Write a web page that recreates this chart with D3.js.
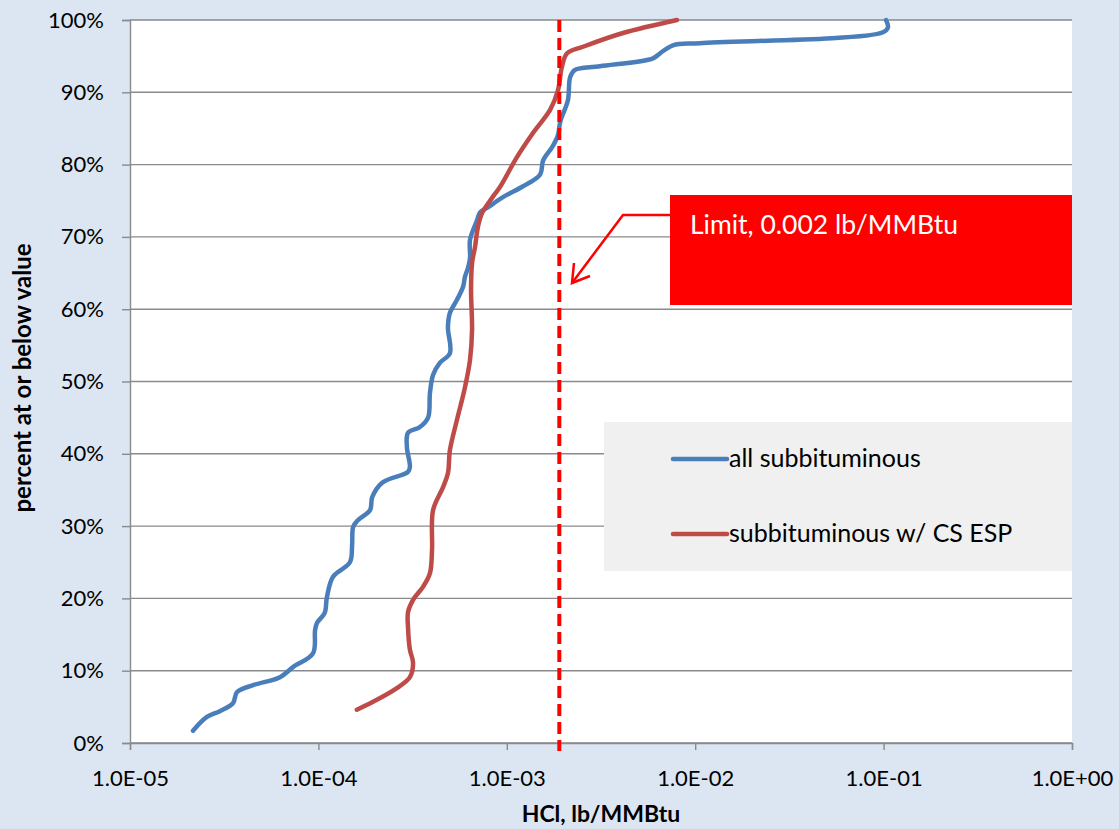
<!DOCTYPE html>
<html>
<head>
<meta charset="utf-8">
<script src="https://cdn.jsdelivr.net/npm/d3@7"></script>
<style>
  html, body { margin: 0; padding: 0; background: #DCE6F2; }
  svg { display: block; font-family: Lato, "Open Sans", sans-serif; }
</style>
</head>
<body>
<script>
// Data
var xTicks = [1e-5, 1e-4, 1e-3, 1e-2, 1e-1, 1];
var xTickLabels = ["1.0E-05", "1.0E-04", "1.0E-03", "1.0E-02", "1.0E-01", "1.0E+00"];
var yTicks = [0, 10, 20, 30, 40, 50, 60, 70, 80, 90, 100];
var yTickLabels = ["0%", "10%", "20%", "30%", "40%", "50%", "60%", "70%", "80%", "90%", "100%"];

var seriesNames = ["all subbituminous", "subbituminous w/ CS ESP"];

// all subbituminous: HCl (lb/MMBtu) and percent at or below
var allSubHcl = [2.16e-5, 2.56e-5, 3.00e-5, 3.52e-5, 3.70e-5, 4.50e-5, 6.25e-5, 7.33e-5, 9.36e-5, 9.6e-5,
                 9.83e-5, 1.08e-4, 1.11e-4, 1.196e-4, 1.47e-4, 1.51e-4, 1.53e-4, 1.62e-4, 1.88e-4, 1.93e-4,
                 2.18e-4, 2.99e-4, 3.06e-4, 2.95e-4, 2.99e-4, 3.46e-4, 3.82e-4, 3.91e-4, 4.06e-4, 4.42e-4,
                 4.99e-4, 4.87e-4, 4.99e-4, 5.44e-4, 5.86e-4, 6.00e-4, 6.22e-4, 6.38e-4, 6.38e-4, 6.95e-4,
                 7.21e-4, 7.85e-4, 9.54e-4, 1.22e-3, 1.50e-3, 1.56e-3, 1.74e-3, 1.87e-3, 1.92e-3, 2.11e-3,
                 2.17e-3, 2.30e-3, 3.12e-3, 5.97e-3, 6.51e-3, 7.62e-3, 1.06e-2, 9.93e-2, 0.1055, 0.103];
var allSubPct = [1.7, 3.6, 4.4, 5.5, 7.05, 8.0, 9.1, 10.5, 12.4, 15.6,
                 16.6, 18.0, 20.2, 23.0, 25.0, 27.4, 29.9, 30.8, 32.2, 34.0,
                 36.0, 37.5, 38.2, 40.9, 42.9, 43.7, 45.0, 48.4, 50.9, 52.6,
                 53.9, 57.5, 59.5, 61.3, 63.1, 64.5, 65.7, 67.1, 69.6, 72.3,
                 73.4, 74.0, 75.5, 77.0, 78.6, 80.6, 82.4, 84.1, 85.9, 88.9,
                 92.1, 93.1, 93.6, 94.7, 95.4, 96.5, 96.8, 98.3, 99.0, 100];

// subbituminous w/ CS ESP
var espHcl = [1.60e-4, 1.95e-4, 2.61e-4, 3.06e-4, 3.18e-4, 3.06e-4, 2.99e-4, 2.99e-4, 3.18e-4, 3.59e-4,
              3.91e-4, 4.01e-4, 4.06e-4, 4.59e-4, 4.87e-4, 4.99e-4, 5.44e-4, 6.00e-4, 6.38e-4, 6.54e-4,
              6.46e-4, 6.54e-4, 6.78e-4, 7.03e-4, 7.39e-4, 8.35e-4, 9.20e-4, 1.13e-3, 1.38e-3, 1.70e-3,
              1.87e-3, 1.96e-3, 2.09e-3, 2.54e-3, 4.14e-3, 8.01e-3];
var espPct = [4.6, 5.7, 7.6, 9.1, 11.1, 12.9, 16.0, 18.1, 19.8, 21.6,
              23.5, 26.7, 32.2, 35.4, 37.3, 40.5, 44.7, 49.2, 53.0, 57.1,
              62.7, 66.4, 68.6, 71.4, 73.3, 75.4, 76.9, 81.0, 84.4, 87.6,
              90.3, 93.5, 95.4, 96.3, 98.2, 100];

var limitValue = 0.0019;
var limitLabel = "Limit, 0.002 lb/MMBtu";

var width = 1119, height = 829;
var margin = {top: 20, right: 47, bottom: 86, left: 130};
var plotW = width - margin.left - margin.right;
var plotH = height - margin.top - margin.bottom;

var svg = d3.select("body").append("svg")
    .attr("width", width)
    .attr("height", height);

svg.append("rect").attr("width", width).attr("height", height).attr("fill", "#DCE6F2");

var g = svg.append("g").attr("transform", "translate(" + margin.left + "," + margin.top + ")");

var x = d3.scaleLog().domain([1e-5, 1]).range([0, plotW]);
var y = d3.scaleLinear().domain([0, 100]).range([plotH, 0]);

g.append("rect").attr("width", plotW).attr("height", plotH).attr("fill", "#fff");

// gridlines
g.selectAll(".grid")
    .data(yTicks)
    .enter()
    .append("line")
    .attr("x1", 0).attr("x2", plotW)
    .attr("y1", function(d){ return y(d); })
    .attr("y2", function(d){ return y(d); })
    .attr("stroke", "#8a8a8a")
    .attr("stroke-width", 1.4);

// axes
var yAxis = d3.axisLeft(y)
    .tickValues(yTicks)
    .tickFormat(function(d, i){ return yTickLabels[i]; })
    .tickSize(8)
    .tickPadding(18);

var xAxis = d3.axisBottom(x)
    .tickValues(xTicks)
    .tickFormat(function(d, i){ return xTickLabels[i]; })
    .tickSize(7)
    .tickPadding(20);

var yg = g.append("g").call(yAxis);
var xg = g.append("g").attr("transform", "translate(0," + plotH + ")").call(xAxis);

[yg, xg].forEach(function(a){
    a.select(".domain").attr("stroke", "#8a8a8a").attr("stroke-width", 1.4);
    a.selectAll(".tick line").attr("stroke", "#8a8a8a").attr("stroke-width", 1.4);
    a.selectAll(".tick text")
        .attr("fill", "#000")
        .style("font-family", "Lato, 'Open Sans', sans-serif")
        .style("font-size", "22px");
});

// legend box (covers gridlines)
var legend = g.append("g").attr("transform", "translate(474,402)");
legend.append("rect").attr("width", 468).attr("height", 149).attr("fill", "#F0F0F0");

// series
var line = d3.line()
    .x(function(d){ return x(d[0]); })
    .y(function(d){ return y(d[1]); })
    .curve(d3.curveCatmullRom.alpha(0.5));

var series = [
    {name: seriesNames[0], color: "#4A7EBB", pts: d3.zip(allSubHcl, allSubPct)},
    {name: seriesNames[1], color: "#BE4B48", pts: d3.zip(espHcl, espPct)}
];

g.selectAll(".series")
    .data(series)
    .enter()
    .append("path")
    .attr("d", function(d){ return line(d.pts); })
    .attr("fill", "none")
    .attr("stroke", function(d){ return d.color; })
    .attr("stroke-width", 4.5)
    .attr("stroke-linecap", "round")
    .attr("stroke-linejoin", "round");

legend.selectAll(".lg")
    .data(series)
    .enter()
    .append("g")
    .attr("transform", function(d, i){ return "translate(0," + (37 + i * 75) + ")"; })
    .each(function(d){
        var s = d3.select(this);
        s.append("line").attr("x1", 69).attr("x2", 123)
            .attr("stroke", d.color).attr("stroke-width", 4.5).attr("stroke-linecap", "round");
        s.append("text").attr("x", 125).attr("y", 8)
            .style("font-size", "25px").attr("fill", "#000").text(d.name);
    });

// limit line
g.append("line")
    .attr("x1", x(limitValue)).attr("x2", x(limitValue))
    .attr("y1", 0).attr("y2", plotH + 8)
    .attr("stroke", "#FF0000")
    .attr("stroke-width", 4)
    .attr("stroke-dasharray", "12,6");

// annotation
svg.append("rect").attr("x", 670).attr("y", 195).attr("width", 402).attr("height", 110).attr("fill", "#FF0000");
svg.append("text").attr("x", 690).attr("y", 234)
    .attr("fill", "#fff").style("font-size", "26.5px").text(limitLabel);
svg.append("polyline")
    .attr("points", "670,215 623,215 572,283")
    .attr("fill", "none").attr("stroke", "#FF0000").attr("stroke-width", 2.5);
svg.append("polyline")
    .attr("points", "574,263 572,283 590,276")
    .attr("fill", "none").attr("stroke", "#FF0000").attr("stroke-width", 2.5);

// axis titles
svg.append("text")
    .attr("transform", "translate(31,378) rotate(-90)")
    .attr("text-anchor", "middle")
    .style("font-size", "24px").style("font-weight", "bold")
    .text("percent at or below value");

svg.append("text")
    .attr("x", margin.left + plotW / 2).attr("y", 822)
    .attr("text-anchor", "middle")
    .style("font-size", "23px").style("font-weight", "bold")
    .text("HCl, lb/MMBtu");
</script>
</body>
</html>
